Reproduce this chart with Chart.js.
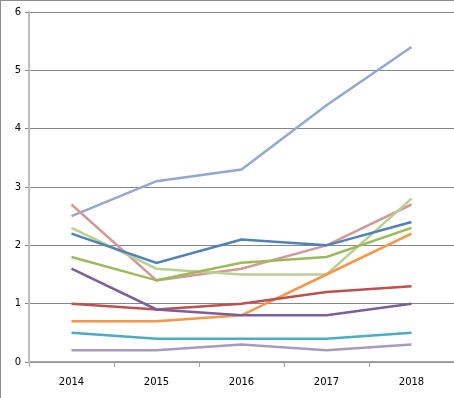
<!DOCTYPE html>
<html>
<head>
<meta charset="utf-8">
<script src="https://cdn.jsdelivr.net/npm/chart.js@4"></script>
<style>
  html, body { margin: 0; padding: 0; background: #fff; }
  #wrap { position: relative; width: 454px; height: 398px; box-sizing: border-box; border-left: 1px solid #8c8c8c; border-top: 1px solid #8c8c8c; }
</style>
</head>
<body>
<div id="wrap"><canvas id="chart" width="453" height="397"></canvas></div>
<script>
const years = ['2014', '2015', '2016', '2017', '2018'];
const yTicks = [0, 1, 2, 3, 4, 5, 6];

const blue = [2.2, 1.7, 2.1, 2.0, 2.4];
const red = [1.0, 0.9, 1.0, 1.2, 1.3];
const green = [1.8, 1.4, 1.7, 1.8, 2.3];
const purple = [1.6, 0.9, 0.8, 0.8, 1.0];
const teal = [0.5, 0.4, 0.4, 0.4, 0.5];
const orange = [0.7, 0.7, 0.8, 1.5, 2.2];
const lightBlue = [2.5, 3.1, 3.3, 4.4, 5.4];
const pink = [2.7, 1.4, 1.6, 2.0, 2.7];
const lightGreen = [2.3, 1.6, 1.5, 1.5, 2.8];
const lilac = [0.2, 0.2, 0.3, 0.2, 0.3];

function series(data, color) {
    return {
        data: data,
        borderColor: color,
        backgroundColor: color,
        borderWidth: 2.5,
        pointRadius: 0,
        tension: 0,
        fill: false
    };
}

new Chart(document.getElementById('chart'), {
    type: 'line',
    data: {
        labels: years,
        datasets: [
            series(lilac, '#a899bf'),
            series(teal, '#4bacc6'),
            series(purple, '#7a5f9e'),
            series(red, '#c0504d'),
            series(orange, '#f79646'),
            series(green, '#9bbb59'),
            series(blue, '#4f81bd'),
            series(lightGreen, '#b9d195'),
            series(pink, '#d29a97'),
            series(lightBlue, '#94a8cf')
        ]
    },
    options: {
        responsive: false,
        animation: false,
        layout: { padding: { top: 11, right: 0, left: 0, bottom: 0 } },
        plugins: { legend: { display: false }, tooltip: { enabled: false } },
        scales: {
            x: {
                offset: true,
                grid: { offset: true, drawOnChartArea: false, drawTicks: true, tickLength: 5, color: '#a6a6a6' },
                border: { color: '#a6a6a6', width: 1.5 },
                ticks: { color: '#000', font: { family: 'DejaVu Sans', size: 10 }, padding: 9 },
                afterFit: s => { s.height = 36; }
            },
            y: {
                min: 0,
                max: 6,
                afterBuildTicks: s => { s.ticks = yTicks.map(v => ({ value: v })); },
                grid: { color: '#878787', lineWidth: 1, tickLength: 4 },
                border: { color: '#bdbdbd', width: 2 },
                ticks: { color: '#000', font: { family: 'DejaVu Sans', size: 10 }, padding: 4 },
                afterFit: s => { s.width = 28; }
            }
        }
    }
});
</script>
</body>
</html>
